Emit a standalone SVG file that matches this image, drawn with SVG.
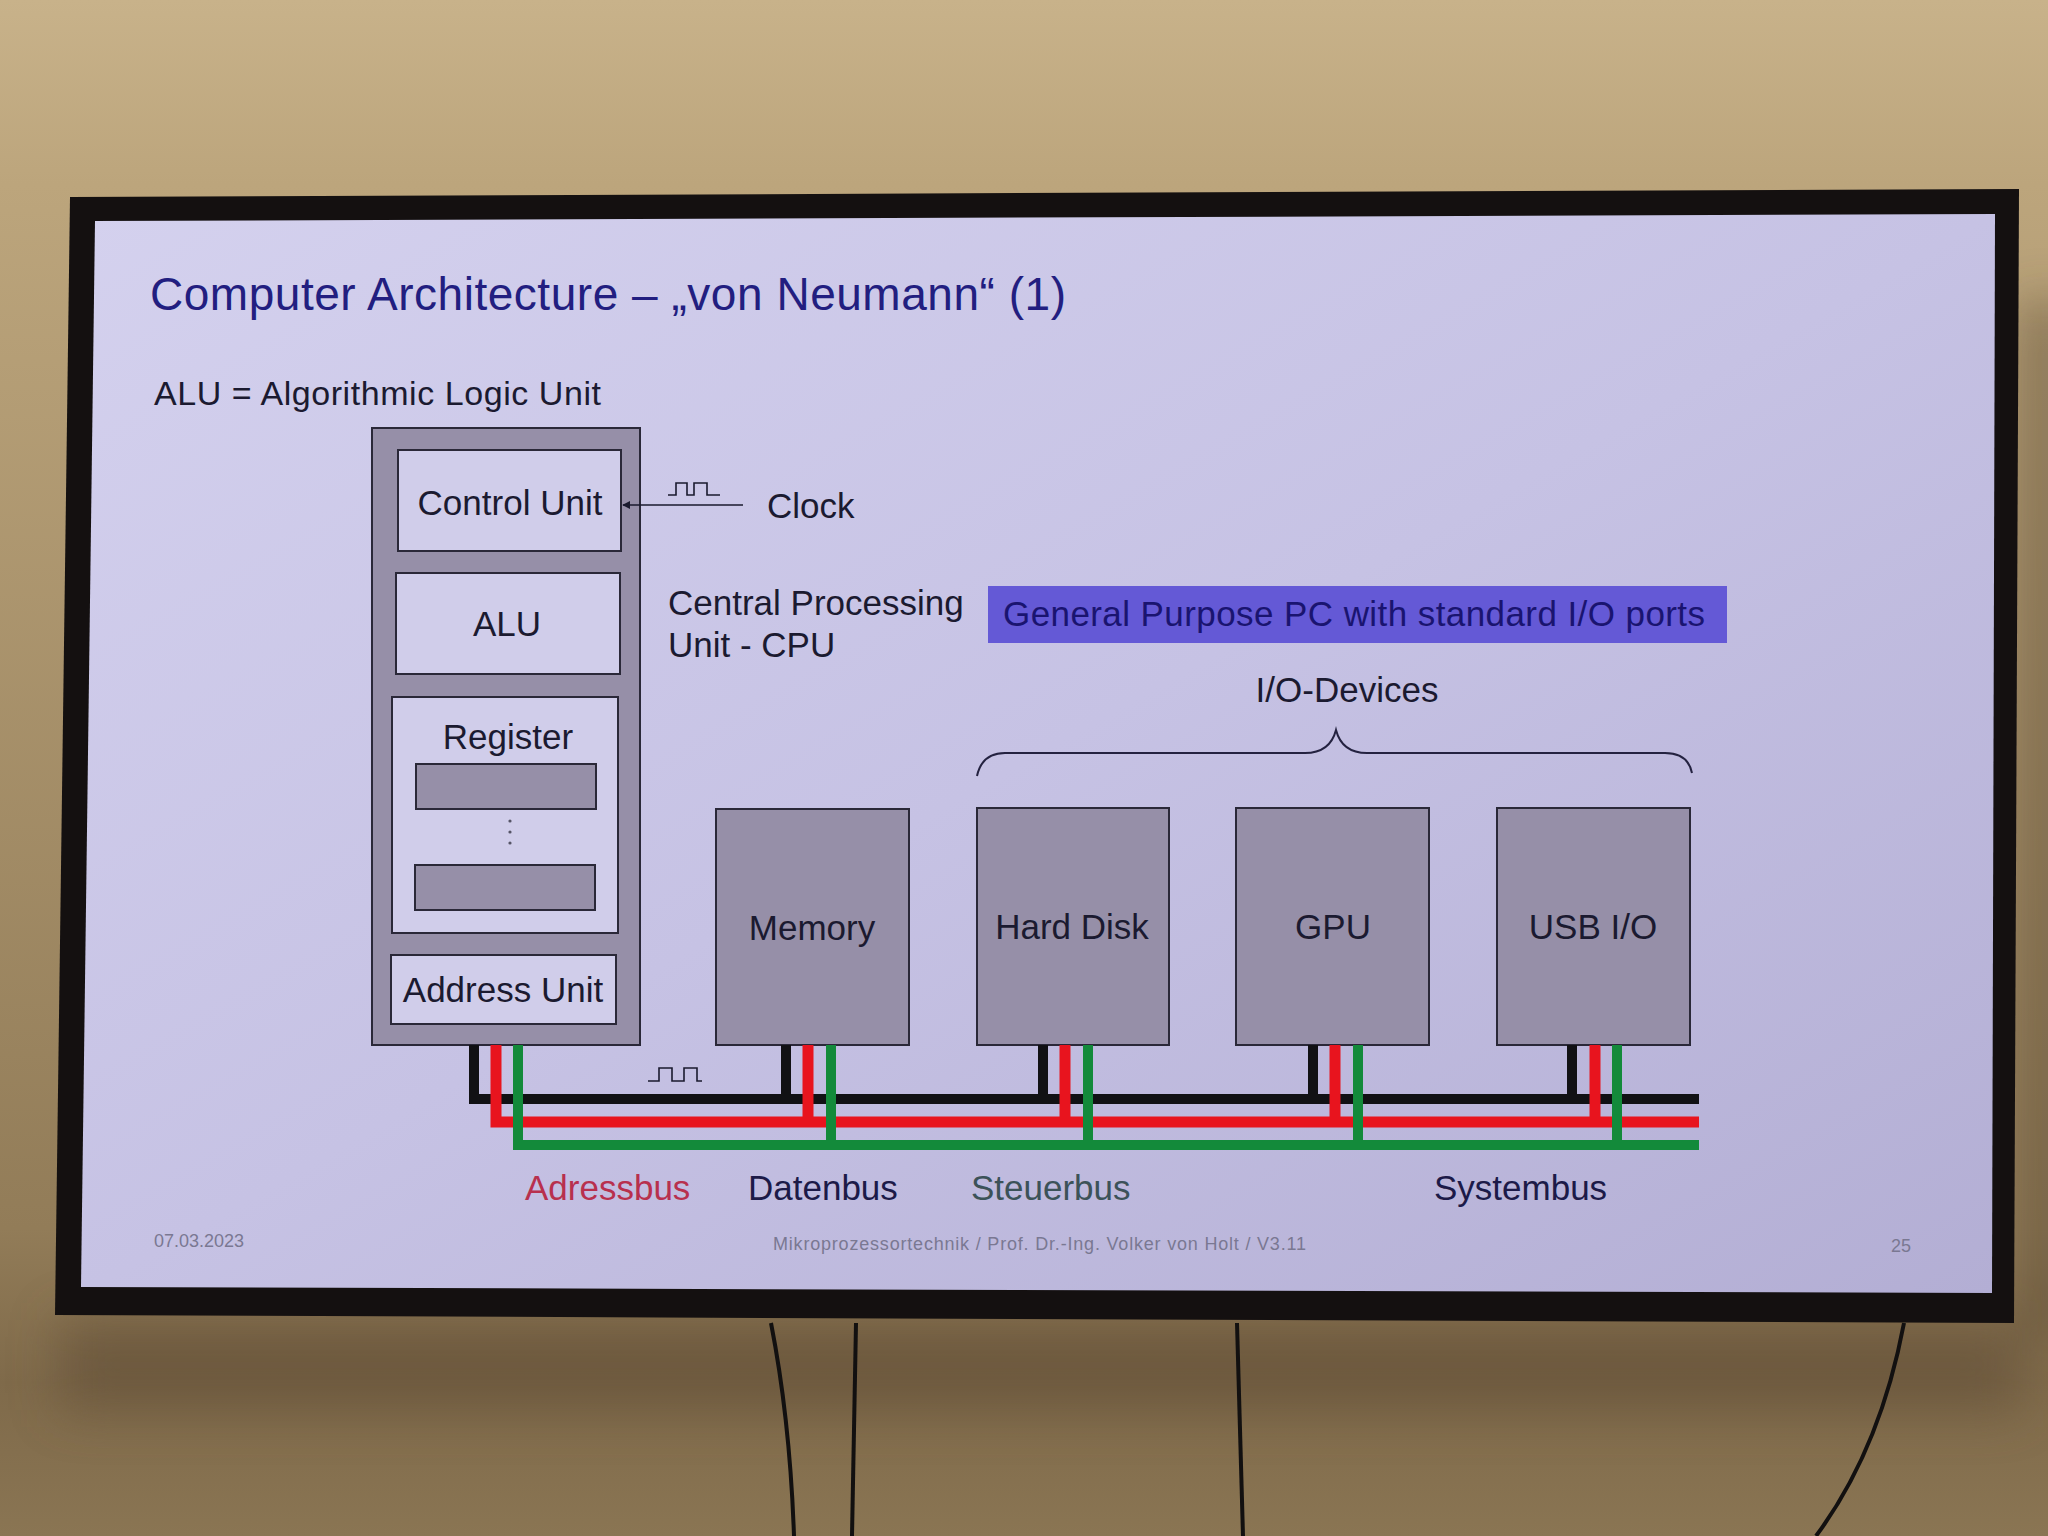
<svg xmlns="http://www.w3.org/2000/svg" width="2048" height="1536" viewBox="0 0 2048 1536">
<defs>
<linearGradient id="wall" x1="0" y1="0" x2="0" y2="1">
<stop offset="0" stop-color="#c8b28a"/>
<stop offset="0.12" stop-color="#bca57c"/>
<stop offset="0.8" stop-color="#927c58"/>
<stop offset="0.9" stop-color="#7f6a4a"/>
<stop offset="1" stop-color="#8a7553"/>
</linearGradient>
<linearGradient id="screen" x1="0" y1="0" x2="1" y2="1">
<stop offset="0" stop-color="#d4d1ee"/>
<stop offset="0.5" stop-color="#c6c2e4"/>
<stop offset="1" stop-color="#b3aed4"/>
</linearGradient>
<filter id="blur" x="-0.2" y="-0.5" width="1.4" height="2"><feGaussianBlur stdDeviation="25"/></filter>
<marker id="arr" viewBox="0 0 10 10" refX="9" refY="5" markerWidth="8" markerHeight="8" orient="auto-start-reverse" markerUnits="userSpaceOnUse">
<path d="M0,0 L10,5 L0,10 z" fill="#1a1a2e"/>
</marker>
<style>
text{font-family:"Liberation Sans",Arial,sans-serif;fill:#1b1a30}
.lbl{font-size:35px}
.mid{text-anchor:middle}
.gray{fill:#968fa8;stroke:#2a2838;stroke-width:2}
.inner{fill:#d0cdea;stroke:#2a2838;stroke-width:2}
.bk{stroke:#111114;stroke-width:10;fill:none}
.rd{stroke:#e8141e;stroke-width:11;fill:none}
.gn{stroke:#138a3a;stroke-width:10;fill:none}
.wave{stroke:#1a1a2e;stroke-width:1.6;fill:none}
.foot{font-size:18px;fill:#7a7892}
</style>
</defs>
<rect x="0" y="0" width="2048" height="1536" fill="url(#wall)"/>
<g filter="url(#blur)" opacity="0.55">
<rect x="2025" y="300" width="40" height="1040" fill="#4e3e2a"/>
<rect x="60" y="1320" width="1960" height="90" fill="#5e4c34"/>
</g>
<!-- cables -->
<g fill="none" stroke="#121010" stroke-width="4">
<path d="M771,1323 Q790,1420 794,1536"/>
<path d="M856,1323 L852,1536"/>
<path d="M1237,1323 L1243,1536"/>
<path d="M1904,1323 Q1880,1450 1816,1536"/>
</g>
<!-- TV -->
<polygon points="70,197 2019,189 2014,1323 55,1315" fill="#141010"/>
<polygon points="95,221 1995,214 1992,1293 81,1287" fill="url(#screen)"/>
<!-- slide text -->
<text x="150" y="310" font-size="46" textLength="916" style="fill:#221e80">Computer Architecture – „von Neumann“ (1)</text>
<text x="154" y="405" font-size="34" textLength="447">ALU = Algorithmic Logic Unit</text>
<!-- CPU -->
<g id="cpu">
<rect class="gray" x="372" y="428" width="268" height="617"/>
<g id="control-unit"><rect class="inner" x="398" y="450" width="223" height="101"/><text class="lbl mid" x="510" y="515">Control Unit</text></g>
<g id="alu"><rect class="inner" x="396" y="573" width="224" height="101"/><text class="lbl mid" x="507" y="636">ALU</text></g>
<g id="register"><rect class="inner" x="392" y="697" width="226" height="236"/><text class="lbl mid" x="508" y="749">Register</text>
<rect class="gray" x="416" y="764" width="180" height="45"/>
<rect class="gray" x="415" y="865" width="180" height="45"/>
<g fill="#555466"><circle cx="510" cy="821" r="1.6"/><circle cx="510" cy="832" r="1.6"/><circle cx="510" cy="843" r="1.6"/></g></g>
<g id="address-unit"><rect class="inner" x="391" y="955" width="225" height="69"/><text class="lbl mid" x="503" y="1002">Address Unit</text></g>
</g>
<g id="clock">
<path class="wave" d="M668,495 H676 V483 H687 V495 H694 V483 H707 V495 H720"/>
<text class="lbl" x="767" y="518">Clock</text>
</g>
<text class="lbl" x="668" y="615">Central Processing</text>
<text class="lbl" x="668" y="657">Unit - CPU</text>
<g id="gp-box"><rect x="988" y="586" width="739" height="57" fill="#6459d6"/><text class="lbl" x="1003" y="626" textLength="702" style="fill:#1a1470">General Purpose PC with standard I/O ports</text></g>
<text class="lbl mid" x="1347" y="702">I/O-Devices</text>
<path d="M977,776 Q982,753 1005,753 H1305 Q1330,753 1336,730 Q1342,753 1367,753 H1665 Q1688,753 1692,773" fill="none" stroke="#242240" stroke-width="2"/>
<g id="memory"><rect class="gray" x="716" y="809" width="193" height="236"/><text class="lbl mid" x="812" y="940">Memory</text></g>
<g id="hard-disk"><rect class="gray" x="977" y="808" width="192" height="237"/><text class="lbl mid" x="1072" y="939">Hard Disk</text></g>
<g id="gpu"><rect class="gray" x="1236" y="808" width="193" height="237"/><text class="lbl mid" x="1333" y="939">GPU</text></g>
<g id="usb"><rect class="gray" x="1497" y="808" width="193" height="237"/><text class="lbl mid" x="1593" y="939">USB I/O</text></g>
<!-- buses -->
<g id="connectors">
<path class="bk" d="M474,1045 V1099 H1699"/>
<path class="rd" d="M496,1045 V1122 H1699"/>
<path class="gn" d="M518,1045 V1145 H1699"/>
<path class="bk" d="M786,1045 V1099 M1043,1045 V1099 M1313,1045 V1099 M1572,1045 V1099"/>
<path class="rd" d="M808,1045 V1122 M1065,1045 V1122 M1335,1045 V1122 M1595,1045 V1122"/>
<path class="gn" d="M831,1045 V1145 M1088,1045 V1145 M1358,1045 V1145 M1617,1045 V1145"/>
<path class="wave" d="M648,1081 H659 V1068 H672 V1081 H684 V1068 H697 V1081 H702"/>
<line x1="743" y1="505" x2="623" y2="505" stroke="#1a1a2e" stroke-width="1.6" marker-end="url(#arr)"/>
</g>
<text class="lbl" x="525" y="1200" style="fill:#b8304e">Adressbus</text>
<text class="lbl" x="748" y="1200" style="fill:#1c1a48">Datenbus</text>
<text class="lbl" x="971" y="1200" style="fill:#3c5258">Steuerbus</text>
<text class="lbl" x="1434" y="1200" style="fill:#1c1a48">Systembus</text>
<text class="foot" x="154" y="1247">07.03.2023</text>
<text class="foot" x="773" y="1250" textLength="533">Mikroprozessortechnik / Prof. Dr.-Ing. Volker von Holt / V3.11</text>
<text class="foot" x="1891" y="1252">25</text>
</svg>
